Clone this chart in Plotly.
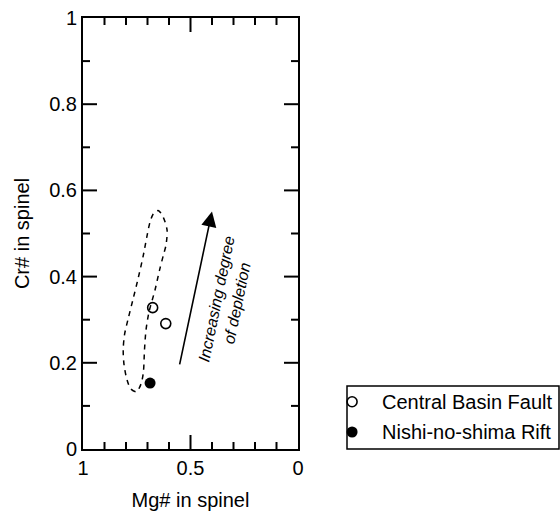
import plotly.graph_objects as go

# Spinel compositions
cbf_mg = [0.676, 0.615]
cbf_cr = [0.328, 0.291]
nsr_mg = [0.688]
nsr_cr = [0.153]

# Outline of the comparison field (dashed envelope)
field_mg = [0.649, 0.626, 0.609, 0.614, 0.626, 0.644, 0.665, 0.693, 0.707, 0.714,
            0.719, 0.730, 0.751, 0.777, 0.795, 0.809, 0.813, 0.807, 0.789, 0.766,
            0.743, 0.720, 0.704, 0.688, 0.670, 0.649]
field_cr = [0.553, 0.537, 0.508, 0.473, 0.450, 0.415, 0.369, 0.318, 0.276, 0.230,
            0.179, 0.151, 0.133, 0.139, 0.160, 0.195, 0.230, 0.265, 0.304, 0.350,
            0.397, 0.448, 0.490, 0.527, 0.548, 0.553]

# Depletion trend arrow (tail -> head)
arrow_tail = (0.552, 0.193)
arrow_head = (0.400, 0.551)

# Axis ticks and labels
x_tickvals = [1, 0.5, 0]
x_ticktext = ["1", "0.5", "0"]
x_major = [0.5]
x_minor = [0.1, 0.2, 0.3, 0.4, 0.6, 0.7, 0.8, 0.9]
y_major = [0.2, 0.4, 0.6, 0.8]
y_minor = [0.1, 0.3, 0.5, 0.7, 0.9]

legend_names = ["Central Basin Fault", "Nishi-no-shima Rift"]

W, H = 560, 511
FONT = "Liberation Sans, Arial, sans-serif"
MAJOR_LEN, MINOR_LEN = 14, 7

# plot frame and legend box in pixels (left, right, top, bottom)
PLOT = (83, 298, 18, 449)
LEG = (347, 559, 386, 449)
PX_X = 1.0 / (PLOT[1] - PLOT[0])   # data units per pixel along x
PX_Y = 1.0 / (PLOT[3] - PLOT[2])   # data units per pixel along y


def xdom(l, r):
    return [l / W, r / W]


def ydom(t, b):
    return [(H - b) / H, (H - t) / H]


fig = go.Figure()

# inward tick marks on all four sides, as one segmented line
tick_x, tick_y = [], []
for vals, length in ((x_major, MAJOR_LEN), (x_minor, MINOR_LEN)):
    for v in vals:
        tick_x += [v, v, None, v, v, None]
        tick_y += [0, length * PX_Y, None, 1, 1 - length * PX_Y, None]
for vals, length in ((y_major, MAJOR_LEN), (y_minor, MINOR_LEN)):
    for v in vals:
        tick_x += [1, 1 - length * PX_X, None, 0, length * PX_X, None]
        tick_y += [v, v, None, v, v, None]
fig.add_trace(go.Scatter(
    x=tick_x, y=tick_y, mode="lines", xaxis="x", yaxis="y",
    line=dict(color="black", width=2), hoverinfo="skip", connectgaps=False,
))

fig.add_trace(go.Scatter(
    x=field_mg, y=field_cr, mode="lines", xaxis="x", yaxis="y",
    line=dict(color="black", width=1.5, dash="5px,5px", shape="spline", smoothing=0.8),
    hoverinfo="skip",
))
fig.add_trace(go.Scatter(
    x=cbf_mg, y=cbf_cr, mode="markers", xaxis="x", yaxis="y", name=legend_names[0],
    marker=dict(symbol="circle-open", size=10, color="black", line=dict(width=1.6)),
))
fig.add_trace(go.Scatter(
    x=nsr_mg, y=nsr_cr, mode="markers", xaxis="x", yaxis="y", name=legend_names[1],
    marker=dict(symbol="circle", size=11, color="black"),
))

# legend keys on a helper axis spanning the legend box (0..1 in both directions)
key_x = 0.024
key_y = [0.75, 0.27]
fig.add_trace(go.Scatter(
    x=[key_x], y=[key_y[0]], xaxis="x2", yaxis="y2", mode="markers",
    marker=dict(symbol="circle-open", size=10, color="black", line=dict(width=1.6)),
    hoverinfo="skip", cliponaxis=False,
))
fig.add_trace(go.Scatter(
    x=[key_x], y=[key_y[1]], xaxis="x2", yaxis="y2", mode="markers",
    marker=dict(symbol="circle", size=11, color="black"),
    hoverinfo="skip", cliponaxis=False,
))
for name, ky in zip(legend_names, key_y):
    fig.add_annotation(
        x=0.156, y=ky, xref="x2", yref="y2", xanchor="left", yanchor="middle",
        text=name, showarrow=False, font=dict(family=FONT, size=20, color="black"),
    )
fig.add_shape(
    type="rect", xref="x2 domain", yref="y2 domain", x0=0, x1=1, y0=0, y1=1,
    line=dict(color="black", width=1.5),
)

fig.add_annotation(
    x=arrow_head[0], y=arrow_head[1], ax=arrow_tail[0], ay=arrow_tail[1],
    xref="x", yref="y", axref="x", ayref="y",
    showarrow=True, arrowhead=2, arrowsize=1.9, arrowwidth=1.6, arrowcolor="black",
    text="",
)
fig.add_annotation(
    x=0.330, y=0.343, xref="x", yref="y", showarrow=False,
    text="<i>Increasing degree<br>of depletion</i>",
    textangle=-78.4, font=dict(family=FONT, size=16, color="black"),
)

title_font = dict(family=FONT, size=20, color="black")
base = dict(
    showline=True, linewidth=2, linecolor="black", mirror=True,
    ticks="", showgrid=False, zeroline=False, automargin=False,
    tickfont=dict(family=FONT, size=20, color="black"),
)

xaxis = dict(base)
xaxis.update(
    domain=xdom(PLOT[0], PLOT[1]), anchor="y", range=[1, 0],
    tickmode="array", tickvals=x_tickvals, ticktext=x_ticktext,
    title=dict(text="Mg# in spinel", font=title_font, standoff=15),
)
yaxis = dict(base)
yaxis.update(
    domain=ydom(PLOT[2], PLOT[3]), anchor="x", range=[0, 1], dtick=0.2, tick0=0,
    title=dict(text="Cr# in spinel", font=title_font, standoff=14),
)

fig.update_layout(
    template="none",
    width=W, height=H,
    margin=dict(l=0, r=0, t=0, b=0, autoexpand=False),
    plot_bgcolor="white", paper_bgcolor="white",
    font=dict(family=FONT, size=20, color="black"),
    showlegend=False,
    xaxis=xaxis,
    yaxis=yaxis,
    xaxis2=dict(domain=xdom(LEG[0], LEG[1]), anchor="y2", range=[0, 1], visible=False, fixedrange=True),
    yaxis2=dict(domain=ydom(LEG[2], LEG[3]), anchor="x2", range=[0, 1], visible=False, fixedrange=True),
)

fig.write_html("out.html")
